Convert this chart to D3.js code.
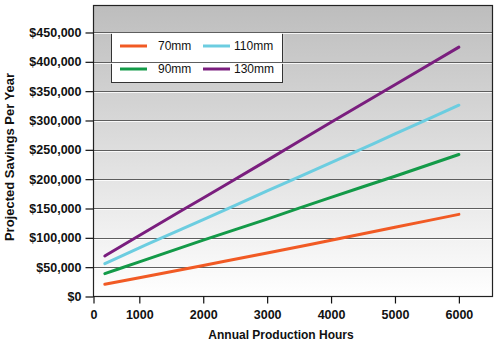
<!DOCTYPE html>
<html>
<head>
<meta charset="utf-8">
<script src="https://cdn.jsdelivr.net/npm/d3@7"></script>
<style>
  body { margin: 0; background: #fff; }
  svg { display: block; }
</style>
</head>
<body>
<div id="chart"><svg width="499" height="350"></svg></div>
<script>
// values
const hours = [460, 1000, 2000, 3000, 4000, 5000, 6000];
const seriesNames = ['70mm', '90mm', '110mm', '130mm'];
const savings70 = [21000, 32000, 53000, 74000, 96000, 118000, 140000];
const savings90 = [39000, 59000, 96000, 132000, 169000, 205000, 242000];
const savings110 = [56000, 83000, 131000, 180000, 228000, 277000, 326000];
const savings130 = [69000, 104000, 168000, 232000, 297000, 361000, 425000];
const seriesColors = ['#f15a24', '#139a48', '#6ccde0', '#7a1e7e'];
const xTicks = [0, 1000, 2000, 3000, 4000, 5000, 6000];
const yTicks = [0, 50000, 100000, 150000, 200000, 250000, 300000, 350000, 400000, 450000];

const allSeries = [savings70, savings90, savings110, savings130];

const svg = d3.select('#chart svg');

const LEFT = 93.5, RIGHT = 492.5, TOP = 5.5, BOTTOM = 296.5;
const FONT = '"Liberation Sans", Arial, sans-serif';

// the axis starts a little above 0 hours, the "0" tick sits on the left edge
const X_SCALE =
  d3.scaleLinear()
    .domain([283, 6526])
    .range([LEFT, RIGHT])
    .clamp(true);

const Y_SCALE =
  d3.scaleLinear()
    .domain([0, 496000])
    .range([BOTTOM, TOP]);

const grad = svg.append('defs')
  .append('linearGradient')
  .attr('id', 'bg')
  .attr('x1', 0).attr('y1', 0).attr('x2', 0).attr('y2', 1);
grad.append('stop').attr('offset', '0%').attr('stop-color', '#bdbdbd');
grad.append('stop').attr('offset', '100%').attr('stop-color', '#ffffff');

svg.append('rect')
  .attr('x', LEFT).attr('y', TOP)
  .attr('width', RIGHT - LEFT).attr('height', BOTTOM - TOP)
  .attr('fill', 'url(#bg)');

// legend box (gridlines are drawn over it in the original)
const legend = svg.append('g');
legend.append('rect')
  .attr('x', 113.5).attr('y', 34.5)
  .attr('width', 171).attr('height', 50)
  .attr('fill', '#d0d0d0');
legend.append('rect')
  .attr('x', 111.5).attr('y', 32.5)
  .attr('width', 171).attr('height', 50)
  .attr('fill', '#fff')
  .attr('stroke', '#333')
  .attr('stroke-width', 1);

const items = legend.selectAll('g.item')
  .data(seriesNames)
  .join('g')
  .attr('class', 'item')
  .attr('transform', (d, i) => `translate(${i < 2 ? 120 : 203},${i % 2 === 0 ? 46 : 69})`);

items.append('line')
  .attr('x1', 0).attr('x2', 27)
  .attr('stroke', (d, i) => seriesColors[i])
  .attr('stroke-width', 3);

items.append('text')
  .attr('x', (d, i) => i < 2 ? 38 : 31)
  .attr('y', 4)
  .text(d => d)
  .style('font-family', FONT)
  .style('font-size', '12px')
  .attr('fill', '#111');

// gridlines with a white highlight under each
const grid = svg.append('g');
const gridVals = yTicks.filter(v => v > 0);
grid.selectAll('line.dark')
  .data(gridVals)
  .join('line')
  .attr('class', 'dark')
  .attr('x1', LEFT).attr('x2', RIGHT)
  .attr('y1', d => Math.round(Y_SCALE(d)) + 0.5)
  .attr('y2', d => Math.round(Y_SCALE(d)) + 0.5)
  .attr('stroke', '#5e5e5e');
grid.selectAll('line.light')
  .data(gridVals)
  .join('line')
  .attr('class', 'light')
  .attr('x1', LEFT).attr('x2', RIGHT)
  .attr('y1', d => Math.round(Y_SCALE(d)) + 1.5)
  .attr('y2', d => Math.round(Y_SCALE(d)) + 1.5)
  .attr('stroke', '#ffffff')
  .attr('stroke-opacity', 0.85);

// series
const lineGen = d3.line()
  .x((d, i) => X_SCALE(hours[i]))
  .y(d => Y_SCALE(d))
  .curve(d3.curveMonotoneX);

svg.append('g')
  .selectAll('path')
  .data(allSeries)
  .join('path')
  .attr('d', d => lineGen(d))
  .attr('fill', 'none')
  .attr('stroke', (d, i) => seriesColors[i])
  .attr('stroke-width', 3)
  .attr('stroke-linecap', 'round');

// frame
svg.append('rect')
  .attr('x', LEFT).attr('y', TOP)
  .attr('width', RIGHT - LEFT).attr('height', BOTTOM - TOP)
  .attr('fill', 'none')
  .attr('stroke', '#222')
  .attr('stroke-width', 1.2);

const tickFont = g => g.selectAll('text')
  .style('font-family', FONT)
  .style('font-size', '12.5px')
  .style('font-weight', 'bold')
  .attr('fill', '#111');

const yAxis = svg.append('g')
  .attr('transform', `translate(${LEFT},0)`)
  .call(d3.axisLeft(Y_SCALE).tickValues(yTicks).tickFormat(d3.format('$,')).tickSize(8).tickPadding(4))
  .call(g => g.select('.domain').remove())
  .call(tickFont);
yAxis.selectAll('line').attr('stroke', '#111').attr('stroke-width', 1.2);

const xAxis = svg.append('g')
  .attr('transform', `translate(0,${BOTTOM})`)
  .call(d3.axisBottom(X_SCALE).tickValues(xTicks).tickFormat(d3.format('d')).tickSize(7).tickPadding(7))
  .call(g => g.select('.domain').remove())
  .call(tickFont);
xAxis.selectAll('line').attr('stroke', '#111').attr('stroke-width', 1.2);

// axis titles
svg.append('text')
  .text('Annual Production Hours')
  .attr('x', 281)
  .attr('y', 339)
  .style('text-anchor', 'middle')
  .style('font-family', FONT)
  .style('font-size', '12px')
  .style('font-weight', 'bold')
  .attr('fill', '#111');

svg.append('text')
  .text('Projected Savings Per Year')
  .attr('transform', 'translate(13.5,157) rotate(-90)')
  .style('text-anchor', 'middle')
  .style('font-family', FONT)
  .style('font-size', '13px')
  .style('font-weight', 'bold')
  .attr('fill', '#111');
</script>
</body>
</html>
